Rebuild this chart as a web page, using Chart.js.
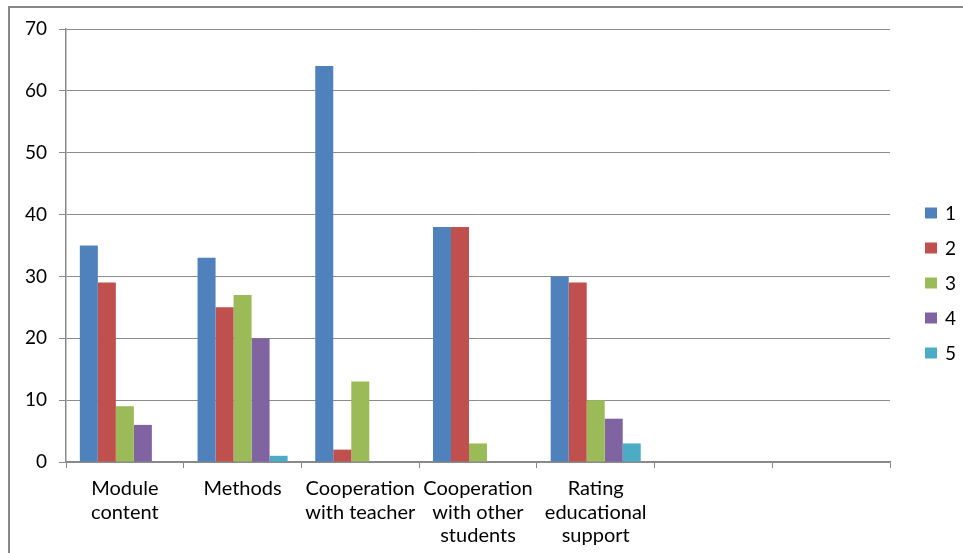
<!DOCTYPE html>
<html>
<head>
<meta charset="utf-8">
<script src="https://cdn.jsdelivr.net/npm/chart.js@4/dist/chart.umd.min.js"></script>
<style>
  html, body { margin: 0; padding: 0; background: #fff; }
  #wrap { position: relative; width: 963px; height: 553px; }
</style>
</head>
<body>
<div id="wrap"><canvas id="c" width="963" height="553"></canvas></div>
<script>
const categories = [
  ["Module", "content"],
  ["Methods"],
  ["Cooperation", "with teacher"],
  ["Cooperation", "with other", "students"],
  ["Rating", "educational", "support"],
  "",
  ""
];
const seriesLabels = ["1", "2", "3", "4", "5"];
const series1 = [35, 33, 64, 38, 30, null, null];
const series2 = [29, 25, 2, 38, 29, null, null];
const series3 = [9, 27, 13, 3, 10, null, null];
const series4 = [6, 20, 0, 0, 7, null, null];
const series5 = [0, 1, 0, 0, 3, null, null];
const yTicks = [0, 10, 20, 30, 40, 50, 60, 70];

const colors = ["#4F81BD", "#C0504D", "#9BBB59", "#8064A2", "#4BACC6"];
const allSeries = [series1, series2, series3, series4, series5];
const FONT = "Lato";

const framePlugin = {
  id: "frame",
  beforeDraw(chart) {
    const ctx = chart.ctx;
    ctx.save();
    ctx.fillStyle = "#fff";
    ctx.fillRect(0, 0, chart.width, chart.height);
    ctx.strokeStyle = "#878787";
    ctx.lineWidth = 2;
    ctx.strokeRect(9, 7, chart.width + 20, chart.height + 20);
    ctx.restore();
  }
};

const legendPlugin = {
  id: "customLegend",
  afterDraw(chart) {
    const ctx = chart.ctx;
    const ds = chart.data.datasets;
    const x0 = chart.chartArea.right + 35;
    const yStart = 213;
    const step = 35;
    ctx.save();
    ctx.font = "19px " + FONT;
    ctx.textBaseline = "middle";
    ctx.textAlign = "left";
    ds.forEach((d, i) => {
      const y = yStart + i * step;
      ctx.fillStyle = d.backgroundColor;
      ctx.fillRect(x0, y - 5.5, 12, 11);
      ctx.fillStyle = "#000";
      ctx.fillText(d.label, x0 + 20, y + 1);
    });
    ctx.restore();
  }
};

new Chart(document.getElementById("c"), {
  type: "bar",
  data: {
    labels: categories,
    datasets: allSeries.map((s, i) => ({
      label: seriesLabels[i],
      data: s,
      backgroundColor: colors[i],
      borderWidth: 0,
      categoryPercentage: 0.765,
      barPercentage: 1.0
    }))
  },
  options: {
    responsive: false,
    animation: false,
    devicePixelRatio: 1,
    layout: { padding: { left: 0, top: 29, right: 73, bottom: 0 } },
    plugins: {
      legend: { display: false },
      tooltip: { enabled: false }
    },
    scales: {
      x: {
        afterFit(scale) { scale.height = 91; },
        grid: {
          display: true,
          drawOnChartArea: false,
          drawTicks: true,
          tickLength: 6,
          color: "#888",
          offset: true
        },
        border: { color: "#888", width: 1.5 },
        ticks: {
          color: "#000",
          font: { family: FONT, size: 20, lineHeight: 1.18 },
          maxRotation: 0,
          minRotation: 0,
          autoSkip: false,
          padding: 9
        }
      },
      y: {
        min: 0,
        max: 70,
        afterFit(scale) { scale.width = 66; },
        afterBuildTicks(scale) { scale.ticks = yTicks.map(v => ({ value: v })); },
        grid: { color: "#8c8c8c", lineWidth: 1, tickLength: 7 },
        border: { color: "#888", width: 1.5 },
        ticks: {
          color: "#000",
          font: { family: FONT, size: 19 },
          padding: 12
        }
      }
    }
  },
  plugins: [framePlugin, legendPlugin]
});
</script>
</body>
</html>
